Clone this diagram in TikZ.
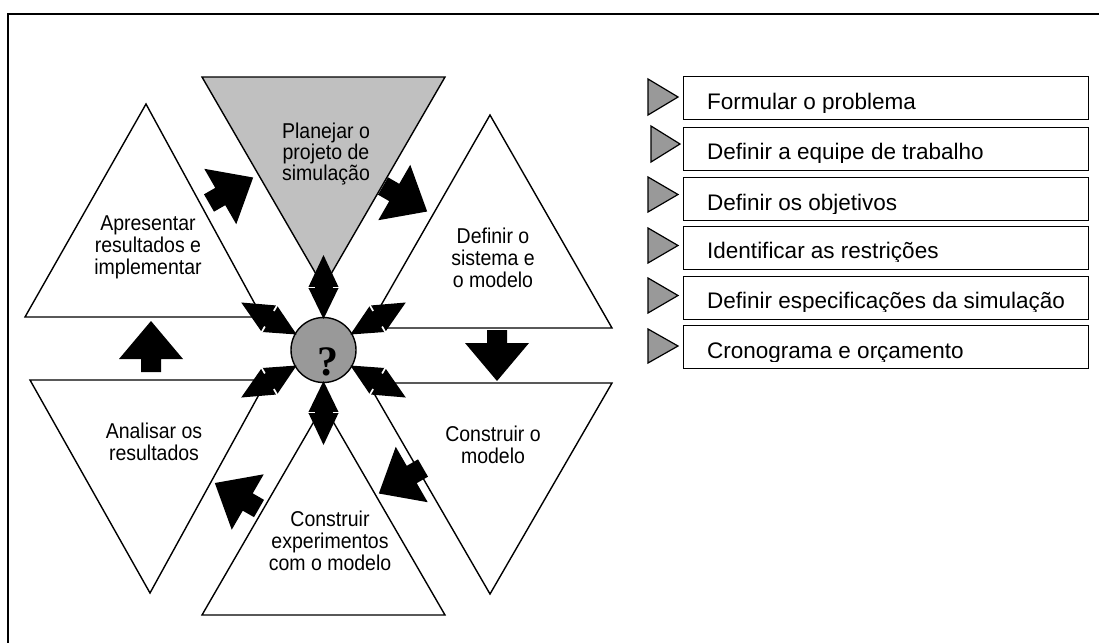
\documentclass[tikz,border=0pt]{standalone}
\usepackage{fontspec}
\setmainfont{Liberation Sans}
\newfontfamily\qfont{Liberation Serif}
\definecolor{topgray}{HTML}{C0C0C0}
\definecolor{markgray}{HTML}{999999}

% single block arrow of the cycle: tail point (#1,#2), direction #3 (degrees)
\newcommand{\cyclearrow}[3]{%
  \fill[black, shift={(#1,#2)}, rotate=#3]
    (0,-10) -- (13,-10) -- (13,-32) -- (51,0) -- (13,32) -- (13,10) -- (0,10) -- cycle;}

% double block arrow between the hub and a stage, direction #1 (degrees)
\newcommand{\hubarrow}[1]{%
  \begin{scope}[shift={(hub.center)}, rotate=#1]
    \fill[black] (31,0) -- (63,-15.5) -- (63,15.5) -- cycle;
    \fill[black] (95,0) -- (62,-15.5) -- (62,15.5) -- cycle;
    \draw[white, line width=1.7pt] (62.5,9) -- (62.5,17) (62.5,-9) -- (62.5,-17);
  \end{scope}}

\begin{document}
\begin{tikzpicture}[x=1pt,y=-1pt,
  edge/.style={draw=black, line width=1.4pt, line join=miter},
  stage/.style={align=center, inner sep=0pt, yscale=1.1, font=\fontsize{19.5}{20}\selectfont},
  listbox/.style={draw=black, line width=1.4pt, minimum width=405pt, minimum height=43pt,
                  inner sep=0pt, anchor=north west},
  listtext/.style={inner sep=0pt, anchor=base west, font=\fontsize{22.5}{24}\selectfont},
  marker/.style={draw=black, fill=markgray, line width=1.2pt, line join=miter}]

\useasboundingbox (0,0) rectangle (1099,643);

% frame
\draw[line width=1.5pt] (1099,14) -- (8,14) -- (8,643);

% the six stages
\path[edge, fill=topgray] (202,77) -- (445,77) -- (323.5,287) -- cycle;
\path[edge, fill=white] (146,104) -- (262,317) -- (25,317) -- cycle;
\path[edge, fill=white] (30,380) -- (267,380) -- (150,593) -- cycle;
\path[edge, fill=white] (323.5,405) -- (445,615) -- (202,615) -- cycle;
\path[edge, fill=white] (490,115) -- (612,328) -- (368,328) -- cycle;
\path[edge, fill=white] (368,383) -- (612,383) -- (490,594) -- cycle;

\node[stage, font=\fontsize{19.5}{17.8}\selectfont] (plan) at (326,154) {Planejar o\\projeto de\\simulação};
\node[stage] (apres) at (148,247) {Apresentar\\resultados e\\implementar};
\node[stage] (defsis) at (493,258) {Definir o\\sistema e\\o modelo};
\node[stage] (constr) at (493,445) {Construir o\\modelo};
\node[stage] (anal) at (154,442) {Analisar os\\resultados};
\node[stage] (exper) at (330,541) {Construir\\experimentos\\com o modelo};

% hub
\node[circle, draw=black, line width=1.4pt, fill=markgray, minimum size=65pt, inner sep=0pt] (hub) at (323.5,350) {};
\node[anchor=base, inner sep=0pt, font=\qfont\bfseries\fontsize{42}{42}\selectfont] (qmark) at (328,375) {?};

\hubarrow{90}
\hubarrow{30}
\hubarrow{-30}
\hubarrow{-90}
\hubarrow{-150}
\hubarrow{150}

% cycle arrows
\cyclearrow{209}{203}{30}
\cyclearrow{383}{186}{-30}
\cyclearrow{497}{330}{-90}
\cyclearrow{423}{468}{-150}
\cyclearrow{259}{508.5}{150}
\cyclearrow{151}{372}{90}

% planning tasks
\node[listbox] (b1) at (683,76) {};
\node[listbox] (b2) at (683,126.5) {};
\node[listbox] (b3) at (683,177) {};
\node[listbox] (b4) at (683,225.5) {};
\node[listbox] (b5) at (683,275.5) {};
\node[listbox] (b6) at (683,325) {};

\path[marker] (648,79) -- (678,97) -- (648,115) -- cycle;
\path[marker] (651,126) -- (680,144) -- (651,162) -- cycle;
\path[marker] (648,177) -- (678,194.5) -- (648,212) -- cycle;
\path[marker] (648,228) -- (678,245.5) -- (648,263) -- cycle;
\path[marker] (648,278) -- (678,295.5) -- (648,313) -- cycle;
\path[marker] (648,329) -- (678,346) -- (648,363) -- cycle;

\begin{scope}
  \clip (690,80) rectangle (1085,112);
  \node[listtext] (t1) at (707,109.3) {Formular o problema};
\end{scope}
\begin{scope}
  \clip (690,130) rectangle (1085,162.5);
  \node[listtext] (t2) at (707,159.5) {Definir a equipe de trabalho};
\end{scope}
\begin{scope}
  \clip (690,180) rectangle (1085,213);
  \node[listtext] (t3) at (707,210) {Definir os objetivos};
\end{scope}
\begin{scope}
  \clip (690,229) rectangle (1085,261.5);
  \node[listtext] (t4) at (707,258.5) {Identificar as restrições};
\end{scope}
\begin{scope}
  \clip (690,279) rectangle (1085,311.5);
  \node[listtext] (t5) at (707,308.5) {Definir especificações da simulação};
\end{scope}
\begin{scope}
  \clip (690,328) rectangle (1085,361.5);
  \node[listtext] (t6) at (707,358.5) {Cronograma e orçamento};
\end{scope}

\end{tikzpicture}
\end{document}
